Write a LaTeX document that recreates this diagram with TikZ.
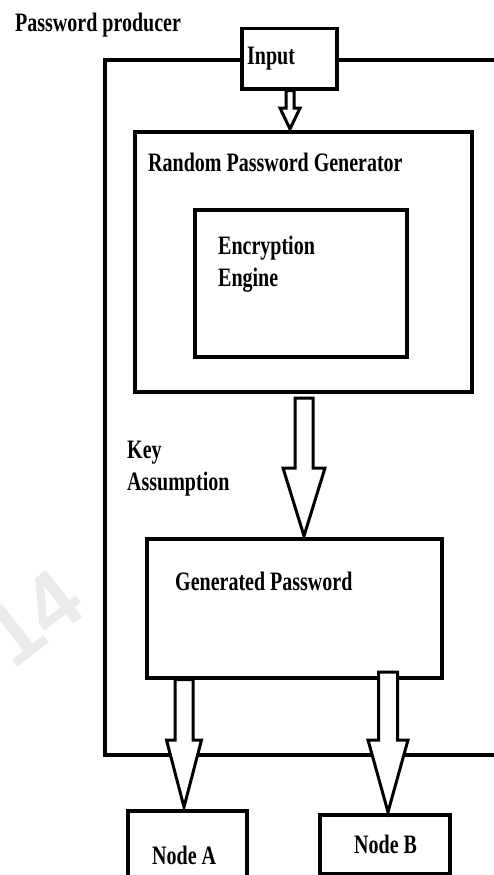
\documentclass[tikz,border=0pt]{standalone}
\usepackage{fontspec}
\setmainfont{Liberation Serif}
\newfontfamily\wmfont{Liberation Sans}
\usetikzlibrary{calc}
\newcommand\st[1]{\scalebox{1}[1.33]{#1}}
\newcommand\harrow[5]{%
  \draw[hollow] let \p1=#1, \p2=#2 in
    (\x2-#3,\y1) -- (\x2-#3,\y2+#5) -- (\x2-#4,\y2+#5) -- (\x2,\y2)
    -- (\x2+#4,\y2+#5) -- (\x2+#3,\y2+#5) -- (\x2+#3,\y1) -- cycle;}
\begin{document}
\begin{tikzpicture}[x=1pt,y=-1pt,
  box/.style={draw,line width=3.5pt,fill=white,anchor=north west,inner sep=0pt},
  lbl/.style={anchor=base west,inner sep=0pt,font=\fontsize{20}{24}\selectfont\bfseries},
  frame/.style={line width=3.5pt},
  hollow/.style={draw,line width=3pt,fill=white,line join=miter}]
\useasboundingbox (0,0) rectangle (494,875);
\clip (0,0) rectangle (494,875);
\fill[white] (0,0) rectangle (494,875);
% watermark
\node[rotate=38,text=gray!16,inner sep=0pt,font=\wmfont\fontsize{86}{90}\selectfont\bfseries] (wm) at (33,618) {14};
% outer frame
\coordinate (ftr) at (500,60);
\coordinate (fbr) at (500,755);
\draw[frame] (ftr) -- (105,60) -- (105,755) -- (fbr);
% boxes
\node[box,minimum width=95pt,minimum height=60pt] (input) at (240,27) {};
\node[box,minimum width=337pt,minimum height=260pt] (rpg) at (133,130) {};
\node[box,minimum width=212pt,minimum height=147pt] (enc) at (193,208) {};
\node[box,minimum width=295pt,minimum height=139pt] (gp) at (145,537) {};
\node[box,minimum width=119pt,minimum height=90pt] (na) at (126,809) {};
\node[box,minimum width=130pt,minimum height=59pt] (nb) at (318,813) {};
% arrows
\coordinate (t1) at (290,129);
\harrow{(input.south)}{(t1)}{4pt}{10pt}{21pt}
\coordinate (s2) at (304,398);
\coordinate (t2) at (304,536);
\harrow{(s2)}{(t2)}{9pt}{21pt}{68pt}
\coordinate (t3) at (184,807);
\harrow{(gp.south -| t3)}{(t3)}{9pt}{17.5pt}{67pt}
\coordinate (s4) at (388,672);
\coordinate (t4) at (388,812);
\harrow{(s4)}{(t4)}{9.5pt}{20pt}{72pt}
% labels
\node[lbl] (lprod) at (15,32) {\st{Password producer}};
\node[lbl] (linput) at (247,65) {\st{Input}};
\node[lbl] (lrpg) at (148,171) {\st{Random Password Generator}};
\node[lbl] (lenc1) at (218,254) {\st{Encryption}};
\node[lbl] (lenc2) at (218,286) {\st{Engine}};
\node[lbl] (lkey1) at (127,458) {\st{Key}};
\node[lbl] (lkey2) at (127,490) {\st{Assumption}};
\node[lbl] (lgp) at (175,590) {\st{Generated Password}};
\node[lbl] (lna) at (152,864) {\st{Node A}};
\node[lbl] (lnb) at (354,853) {\st{Node B}};
\end{tikzpicture}
\end{document}
